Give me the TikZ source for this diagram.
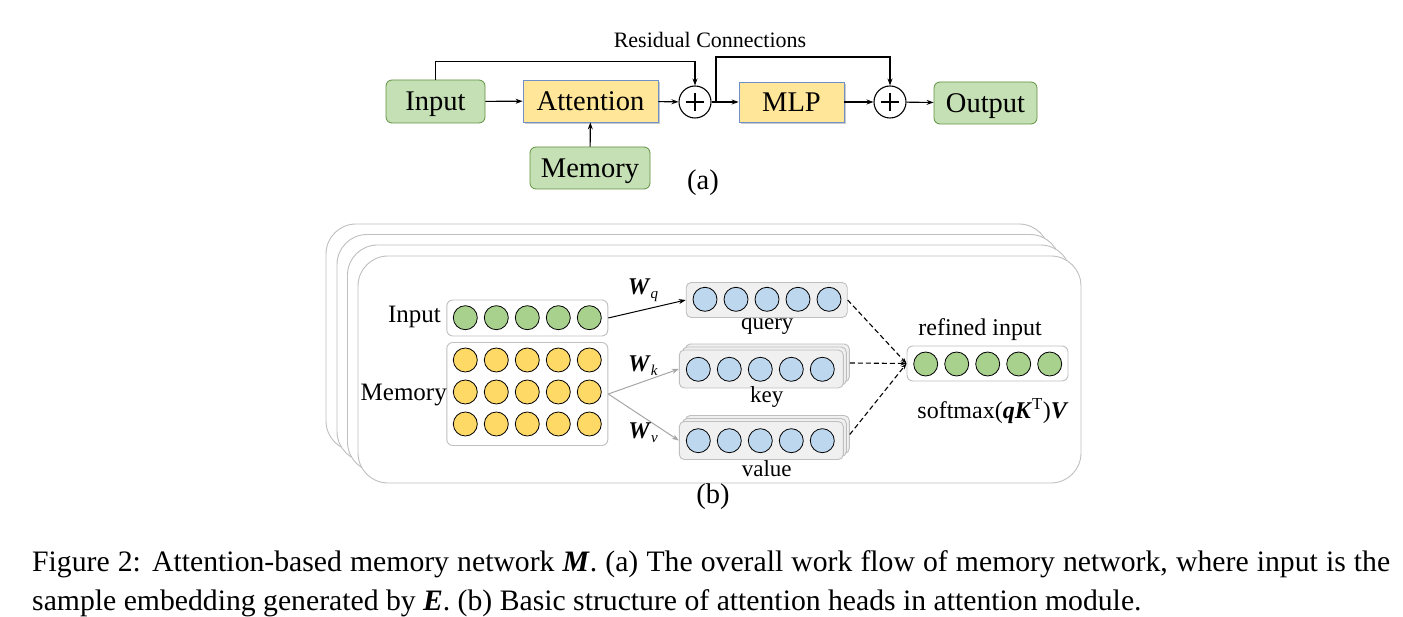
\documentclass[tikz,border=0pt]{standalone}
\usepackage{fontspec}
\setmainfont{Liberation Serif}
\usetikzlibrary{arrows.meta,shadows}
\definecolor{gfill}{HTML}{C5E0B4}
\definecolor{gdraw}{HTML}{5E9141}
\definecolor{yfill}{HTML}{FFE699}
\definecolor{ydraw}{HTML}{6F8FC8}
\definecolor{cgreen}{HTML}{A9D18E}
\definecolor{cyellow}{HTML}{FFD966}
\definecolor{cblue}{HTML}{BDD7EE}
\definecolor{lgray}{HTML}{BFBFBF}
\definecolor{bfill}{HTML}{F0F0F0}
\newcommand{\fsz}[2]{\fontsize{#1}{#2}\selectfont}
\tikzset{
  arr/.style={line width=1.1pt,-{Stealth[length=7pt,width=5pt]}},
  garr/.style={line width=1.1pt,draw=gray!70,-{Stealth[length=7pt,width=5pt]}},
  darr/.style={line width=1.1pt,dashed,dash pattern=on 5pt off 3pt,-{Stealth[length=6pt,width=4pt]}},
  gbox/.style={draw=gdraw,fill=gfill,rounded corners=6pt,line width=0.8pt,font=\fsz{28.5pt}{34pt},inner sep=0pt,text depth=0pt},
  ybox/.style={draw=ydraw,fill=yfill,line width=0.8pt,font=\fsz{28.5pt}{34pt},inner sep=0pt,text depth=0pt,
    drop shadow={shadow xshift=2pt,shadow yshift=-2pt,fill=gray!70,opacity=0.6}},
  plusc/.style={circle,draw,line width=1.1pt,minimum size=32pt,inner sep=0pt,
    path picture={\draw[line width=1.1pt] (path picture bounding box.center) ++(-9,0) -- ++(18,0)
      (path picture bounding box.center) ++(0,-9) -- ++(0,18);}},
  lbl/.style={inner sep=0pt,font=\fsz{28.5pt}{34pt}},
  slbl/.style={inner sep=0pt,font=\fsz{24pt}{29pt}},
  bigbox/.style={draw=lgray,fill=white,rounded corners=30pt,line width=0.9pt},
  wrowbox/.style={draw=lgray,fill=white,rounded corners=6pt,line width=0.9pt},
  grayrowbox/.style={draw=lgray,fill=bfill,rounded corners=5pt,line width=0.9pt},
  dotc/.style={circle,draw,line width=0.8pt,minimum size=24pt,inner sep=0pt},
  captxt/.style={inner sep=0pt,anchor=base west,font=\fsz{29.7pt}{36pt}}
}
\begin{document}
\begin{tikzpicture}[x=1pt,y=-1pt]
\useasboundingbox (0,0) rectangle (1403,617);
% ---------------- (a)
\node[lbl,font=\fsz{22pt}{26pt}] (rc) at (710,40) {Residual Connections};
\node[gbox,minimum width=99pt,minimum height=43pt] (inA) at (435.5,101.5) {Input};
\node[ybox,minimum width=135pt,minimum height=42pt] (att) at (590.5,101) {Attention};
\node[plusc] (p1) at (695,102) {};
\node[ybox,minimum width=105pt,minimum height=40pt] (mlp) at (791.5,102) {MLP};
\node[plusc] (p2) at (890,102) {};
\node[gbox,minimum width=103pt,minimum height=42pt] (outA) at (985.5,103) {Output};
\node[gbox,minimum width=120pt,minimum height=42pt] (memA) at (590,168) {Memory};
\node[lbl] (la) at (703,183) {(a)};
\draw[arr] (inA) -- (att);
\draw[arr] (att) -- (p1);
\draw[arr] (p1) -- (mlp);
\draw[arr] (mlp) -- (p2);
\draw[arr] (p2) -- (outA);
\draw[arr] (memA) -- (att);
\coordinate (r2) at (716,102);
\draw[arr] (inA.north) -- ++(0,-18) -| (p1.north);
\draw[arr] (r2) -- (716,57) -| (p2.north);
% ---------------- (b)
\draw[bigbox] (326,224) rectangle (1049,451);
\draw[bigbox] (337,234.5) rectangle (1060,461.5);
\draw[bigbox] (347.5,245) rectangle (1070.5,472);
\draw[bigbox] (358,256) rectangle (1081,483);
\node[lbl] (lb) at (713,497) {(b)};
% input row
\node[wrowbox,minimum width=161pt,minimum height=36pt,inner sep=0pt] (inB) at (527.3,318) {};
\foreach \i in {0,...,4} \node[dotc,fill=cgreen] (ic\i) at (465.3+31*\i,317.7) {};
\node[slbl,font=\fsz{25pt}{30pt},anchor=east] (inL) at (441,316.5) {Input};
% memory
\node[wrowbox,minimum width=161pt,minimum height=103pt,inner sep=0pt] (memB) at (527.3,394) {};
\foreach \r/\y in {0/360,1/392,2/424}
  \foreach \i in {0,...,4} \node[dotc,fill=cyellow] (m\r\i) at (465.3+31*\i,\y) {};
\node[slbl,font=\fsz{25pt}{30pt},anchor=east] (memL) at (447,395) {Memory};
% query
\node[grayrowbox,minimum width=161pt,minimum height=35pt] (qb) at (766.7,300) {};
\foreach \i in {0,...,4} \node[dotc,fill=cblue] (q\i) at (705+31*\i,299.3) {};
\node[slbl,font=\fsz{23pt}{28pt}] (ql) at (767.3,326) {query};
% key
\node[grayrowbox,minimum width=164pt,minimum height=38pt] (kb2) at (767.3,363) {};
\node[grayrowbox,minimum width=164pt,minimum height=38pt] (kb1) at (764.3,366) {};
\node[grayrowbox,minimum width=164pt,minimum height=38pt] (kb) at (761.3,369) {};
\foreach \i in {0,...,4} \node[dotc,fill=cblue] (k\i) at (698.3+31*\i,369.3) {};
\node[slbl,font=\fsz{23pt}{28pt}] (kl) at (766.7,397) {key};
% value
\node[grayrowbox,minimum width=164pt,minimum height=38pt] (vb2) at (767.3,434.5) {};
\node[grayrowbox,minimum width=164pt,minimum height=38pt] (vb1) at (764.3,437.5) {};
\node[grayrowbox,minimum width=164pt,minimum height=38pt] (vb) at (761.3,440.5) {};
\foreach \i in {0,...,4} \node[dotc,fill=cblue] (v\i) at (698.3+31*\i,440.7) {};
\node[slbl,font=\fsz{23pt}{28pt}] (vl) at (766.7,469) {value};
% refined
\node[wrowbox,minimum width=161pt,minimum height=35pt] (rb) at (987.5,363.5) {};
\foreach \i in {0,...,4} \node[dotc,fill=cgreen] (rc\i) at (925.7+31*\i,364) {};
\node[slbl] (rl) at (980,330) {refined input};
\node[slbl] (sm) at (993,411) {softmax(\textbf{\textit{qK}}\textsuperscript{T})\textbf{\textit{V}}};
% arrows
\draw[arr,line width=1pt] (inB.east) -- (qb.west);
\draw[garr,line width=1pt] (memB.east) -- (kb.west);
\draw[garr,line width=1pt] (memB.east) -- (vb.west);
\node[slbl] (wq) at (643,290) {\textbf{\textit{W}}\raisebox{-0.35ex}{\fsz{15pt}{18pt}\textit{q}}};
\node[slbl] (wk) at (643,366) {\textbf{\textit{W}}\raisebox{-0.35ex}{\fsz{15pt}{18pt}\textit{k}}};
\node[slbl] (wv) at (643,433) {\textbf{\textit{W}}\raisebox{-0.35ex}{\fsz{15pt}{18pt}\textit{v}}};
\draw[darr] (qb.east) -- (rb.west);
\draw[darr] (kb2.east) -- (rb.west);
\draw[darr] (vb2.east) -- (rb.west);
% caption
\node[captxt] (c1) at (32,571.7) {\makebox[1358pt][s]{Figure 2: Attention-based memory network \textbf{\textit{M}}. (a) The overall work flow of memory network, where input is the}};
\node[captxt] (c2) at (32,610) {sample embedding generated by \textbf{\textit{E}}. (b) Basic structure of attention heads in attention module.};
\end{tikzpicture}
\end{document}
